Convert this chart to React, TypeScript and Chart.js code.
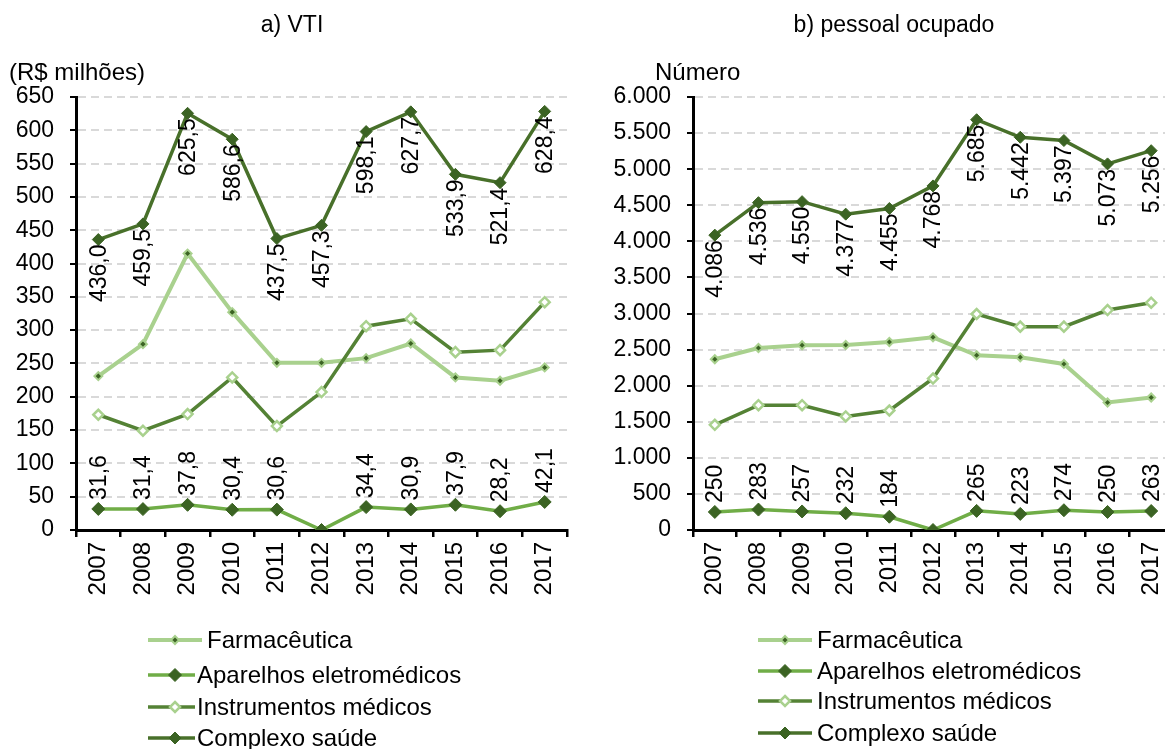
import React, { useEffect, useRef } from "react";
import { Chart, registerables } from "chart.js";

Chart.register(...registerables);

const FONT = "'Liberation Sans', Arial, Helvetica, sans-serif";

// ---------- data ----------
const years = ["2007", "2008", "2009", "2010", "2011", "2012", "2013", "2014", "2015", "2016", "2017"];
const seriesNames = ["Farmacêutica", "Aparelhos eletromédicos", "Instrumentos médicos", "Complexo saúde"];

const vtiFarmaceutica = [231, 279, 415, 327, 251, 251, 258, 280, 229, 224, 244];
const vtiAparelhos = [31.6, 31.4, 37.8, 30.4, 30.6, 0, 34.4, 30.9, 37.9, 28.2, 42.1];
const vtiInstrumentos = [173, 149, 174, 229, 156, 207, 306, 317, 267, 270, 342];
const vtiComplexo = [436.0, 459.5, 625.5, 586.6, 437.5, 457.3, 598.1, 627.7, 533.9, 521.4, 628.4];

const poFarmaceutica = [2366, 2522, 2560, 2564, 2605, 2670, 2421, 2393, 2301, 1767, 1836];
const poAparelhos = [250, 283, 257, 232, 184, 0, 265, 223, 274, 250, 263];
const poInstrumentos = [1457, 1729, 1729, 1573, 1656, 2099, 2993, 2818, 2818, 3048, 3150];
const poComplexo = [4086, 4536, 4550, 4377, 4455, 4768, 5685, 5442, 5397, 5073, 5256];

const vtiAxis = { min: 0, max: 650, step: 50 };
const poAxis = { min: 0, max: 6000, step: 500 };

const titles = ["a) VTI", "b) pessoal ocupado"];
const units = ["(R$ milhões)", "Número"];

// ---------- styles ----------
const styles = [
  { line: "#A9D18E", width: 4, r: 4, fill: "#3B6323", stroke: "#A9D18E", sw: 2 },
  { line: "#70AD47", width: 3.5, r: 6.5, fill: "#3B6323", stroke: "#3B6323", sw: 1 },
  { line: "#548235", width: 3.5, r: 5, fill: "#FFFFFF", stroke: "#A9D18E", sw: 2.5 },
  { line: "#48702A", width: 3.5, r: 6, fill: "#3B6323", stroke: "#3B6323", sw: 1 },
];

const fmtComma1 = (v: number) => v.toFixed(1).replace(".", ",");
const fmtThousands = (v: number) => {
  const s = Math.round(v).toString();
  return s.replace(/\B(?=(\d{3})+(?!\d))/g, ".");
};

function diamond(ctx: CanvasRenderingContext2D, x: number, y: number, r: number, fill: string, stroke: string, lw: number) {
  ctx.beginPath();
  ctx.moveTo(x, y - r);
  ctx.lineTo(x + r, y);
  ctx.lineTo(x, y + r);
  ctx.lineTo(x - r, y);
  ctx.closePath();
  ctx.fillStyle = fill;
  ctx.fill();
  if (lw) {
    ctx.lineWidth = lw;
    ctx.strokeStyle = stroke;
    ctx.stroke();
  }
}

type Cfg = {
  left: number;
  width: number;
  axisWidth: number;
  padRight: number;
  series: number[][];
  axis: { min: number; max: number; step: number };
  tickFmt: (v: number) => string;
  labelFmt: (v: number) => string;
  title: string;
  titleX: number;
  unit: string;
  unitX: number;
  legendYs: number[];
  legendLineStart: number;
  legendLineEnd: number[];
  legendMarkerX: number;
  legendTextX: number[];
};

function overlayPlugin(cfg: Cfg) {
  return {
    id: "overlay",
    afterDatasetsDraw(chart: any) {
      const ctx: CanvasRenderingContext2D = chart.ctx;
      ctx.save();
      ctx.font = `23px ${FONT}`;
      ctx.fillStyle = "#000";
      ctx.textBaseline = "middle";
      // Complexo saúde: labels below ; Aparelhos: labels above
      const specs = [
        { idx: 3, below: true, off: 5 },
        { idx: 1, below: false, off: 9 },
      ];
      specs.forEach((sp) => {
        const meta = chart.getDatasetMeta(sp.idx);
        const vals = cfg.series[sp.idx];
        meta.data.forEach((pt: any, i: number) => {
          const v = vals[i];
          if (!v) return;
          const txt = cfg.labelFmt(v);
          ctx.save();
          ctx.translate(pt.x, pt.y);
          ctx.rotate(-Math.PI / 2);
          if (sp.below) {
            ctx.textAlign = "right";
            ctx.fillText(txt, -sp.off, 1);
          } else {
            ctx.textAlign = "left";
            ctx.fillText(txt, sp.off, 1);
          }
          ctx.restore();
        });
      });
      ctx.restore();
    },
    afterDraw(chart: any) {
      const ctx: CanvasRenderingContext2D = chart.ctx;
      ctx.save();
      ctx.fillStyle = "#000";
      ctx.textBaseline = "middle";
      ctx.font = `23px ${FONT}`;
      ctx.textAlign = "center";
      ctx.fillText(cfg.title, cfg.titleX, 26);
      ctx.textAlign = "left";
      ctx.font = `24px ${FONT}`;
      ctx.fillText(cfg.unit, cfg.unitX, 73);
      // legend
      ctx.font = `24px ${FONT}`;
      chart.data.datasets.forEach((ds: any, k: number) => {
        const st = styles[k];
        const y = cfg.legendYs[k];
        ctx.beginPath();
        ctx.strokeStyle = st.line;
        ctx.lineWidth = st.width;
        ctx.moveTo(cfg.legendLineStart, y);
        ctx.lineTo(cfg.legendLineEnd[k], y);
        ctx.stroke();
        diamond(ctx, cfg.legendMarkerX, y, st.r, st.fill, st.stroke, st.sw);
        ctx.fillStyle = "#000";
        ctx.fillText(ds.label, cfg.legendTextX[k], y + 1);
      });
      ctx.restore();
    },
  };
}

function LineChart({ cfg }: { cfg: Cfg }) {
  const ref = useRef<HTMLCanvasElement>(null);
  useEffect(() => {
    if (!ref.current) return;
    const chart = new Chart(ref.current, {
      type: "line",
      data: {
        labels: years,
        datasets: cfg.series.map((vals, i) => ({
          label: seriesNames[i],
          data: vals,
          borderColor: styles[i].line,
          borderWidth: styles[i].width,
          pointStyle: "rectRot",
          pointRadius: styles[i].r,
          pointHoverRadius: styles[i].r,
          pointBackgroundColor: styles[i].fill,
          pointBorderColor: styles[i].stroke,
          pointBorderWidth: styles[i].sw,
          tension: 0,
          fill: false,
          order: 3 - i,
        })),
      },
      options: {
        responsive: false,
        animation: false,
        events: [],
        layout: { padding: { left: 0, top: 97, right: cfg.padRight, bottom: 0 } },
        plugins: {
          legend: { display: false },
          tooltip: { enabled: false },
          title: { display: false },
        },
        scales: {
          x: {
            offset: true,
            grid: {
              offset: true,
              drawOnChartArea: false,
              drawTicks: true,
              tickLength: 7,
              color: "#000",
              lineWidth: 2.5,
            },
            border: { display: true, color: "#000", width: 3 },
            ticks: {
              minRotation: 90,
              maxRotation: 90,
              autoSkip: false,
              padding: 5,
              color: "#000",
              font: { family: FONT, size: 24 },
            },
            afterFit: (s: any) => {
              s.height = 749 - 530;
            },
          },
          y: {
            min: cfg.axis.min,
            max: cfg.axis.max,
            ticks: {
              stepSize: cfg.axis.step,
              padding: 16,
              color: "#000",
              font: { family: FONT, size: 23 },
              callback: (v: any) => cfg.tickFmt(Number(v)),
            },
            grid: {
              color: "#D9D9D9",
              lineWidth: 2,
              drawTicks: true,
              tickLength: 6,
              tickColor: "#000",
              tickWidth: 2,
            },
            border: { display: true, color: "#000", width: 3, dash: [8, 5] },
            afterFit: (s: any) => {
              s.width = cfg.axisWidth;
            },
          },
        },
      } as any,
      plugins: [overlayPlugin(cfg)],
    });
    return () => chart.destroy();
  }, []);
  return (
    <canvas
      ref={ref}
      width={cfg.width}
      height={749}
      style={{ position: "absolute", left: cfg.left, top: 0, width: cfg.width, height: 749 }}
    />
  );
}

const cfgA: Cfg = {
  left: 0,
  width: 590,
  axisWidth: 76,
  padRight: 590 - 567,
  series: [vtiFarmaceutica, vtiAparelhos, vtiInstrumentos, vtiComplexo],
  axis: vtiAxis,
  tickFmt: (v) => String(v),
  labelFmt: fmtComma1,
  title: titles[0],
  titleX: 292,
  unit: units[0],
  unitX: 9,
  legendYs: [640, 675, 707, 738],
  legendLineStart: 148,
  legendLineEnd: [202, 195, 195, 195],
  legendMarkerX: 175,
  legendTextX: [207, 197, 197, 197],
};

const cfgB: Cfg = {
  left: 590,
  width: 600,
  axisWidth: 693 - 590,
  padRight: 600 - (1173 - 590),
  series: [poFarmaceutica, poAparelhos, poInstrumentos, poComplexo],
  axis: poAxis,
  tickFmt: fmtThousands,
  labelFmt: fmtThousands,
  title: titles[1],
  titleX: 894 - 590,
  unit: units[1],
  unitX: 655 - 590,
  legendYs: [640, 671, 701, 733],
  legendLineStart: 758 - 590,
  legendLineEnd: [812 - 590, 812 - 590, 812 - 590, 812 - 590],
  legendMarkerX: 785 - 590,
  legendTextX: [817 - 590, 817 - 590, 817 - 590, 817 - 590],
};

export default function App() {
  return (
    <div
      style={{
        position: "absolute",
        left: 0,
        top: 0,
        width: 1165,
        height: 749,
        overflow: "hidden",
        background: "#fff",
      }}
    >
      <LineChart cfg={cfgA} />
      <LineChart cfg={cfgB} />
    </div>
  );
}
